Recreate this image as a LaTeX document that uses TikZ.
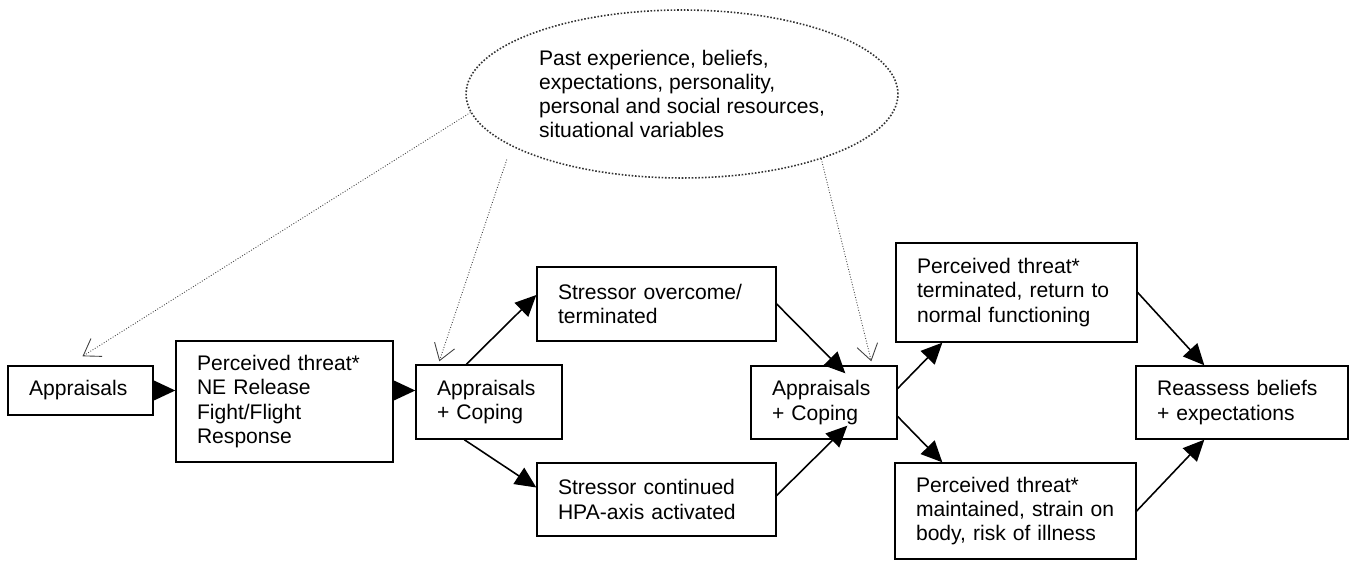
\documentclass[tikz,border=0pt]{standalone}
\usepackage{fontspec}
\setmainfont{Liberation Sans}
\usetikzlibrary{calc,arrows.meta,shapes.geometric}
\tikzset{
	box/.style={draw, line width=0.8pt, align=left, inner xsep=0.42cm, inner ysep=0pt, font=\fontsize{12}{13.8}\selectfont},
	fwd/.style={line width=0.9pt, -{Triangle[length=12pt, width=11pt]}},
	infl/.style={densely dotted, line width=0.5pt, black!75, -{Straight Barb[length=9pt, width=12pt, line width=0.5pt]}}
}

\begin{document}
\begin{tikzpicture}[x=0.02cm, y=0.02cm]
			%%%%% START %%%%%
			
			\useasboundingbox (0, 0) rectangle (1349, 561);
			
			\node[draw, ellipse, densely dotted, line width=0.9pt, black!80, text=black, minimum width=8.64cm, minimum height=3.36cm, align=left, font=\fontsize{12}{13.8}\selectfont] (past) at (682, 467) {Past experience, beliefs,\\expectations, personality,\\personal and social resources,\\situational variables};
			
			\node[box, text width=2.06cm, minimum height=0.98cm] (app) at (80.5, 170.5) {Appraisals};
			\node[box, text width=3.50cm, minimum height=2.42cm] (threat) at (284.5, 159.5) {Perceived threat*\\NE Release\\Fight/Flight\\Response};
			\node[box, text width=2.08cm, minimum height=1.48cm] (cop1) at (489, 159) {Appraisals\\+ Coping};
			
			\node[box, text width=3.94cm, minimum height=1.48cm] (over) at (656.5, 257) {Stressor overcome/\\terminated};
			\node[box, text width=3.94cm, minimum height=1.46cm] (cont) at (656.5, 61.5) {Stressor continued\\HPA-axis activated};
			
			\node[box, text width=2.08cm, minimum height=1.46cm] (cop2) at (824, 158.5) {Appraisals\\+ Coping};
			
			\node[box, text width=3.98cm, minimum height=1.98cm] (term) at (1016.5, 268.5) {Perceived threat*\\terminated, return to\\normal functioning};
			\node[box, text width=3.98cm, minimum height=1.92cm] (maint) at (1015.5, 50) {Perceived threat*\\maintained, strain on\\body, risk of illness};
			
			\node[box, text width=3.40cm, minimum height=1.46cm] (reas) at (1242, 158.5) {Reassess beliefs\\+ expectations};
			
			% influences
			\draw[infl] (past.185) -- ($(app.north)+(2, 9)$);
			\draw[infl, shorten <=8pt] (past.197.5) -- ($(cop1.north west)+(24, 3)$);
			\draw[infl] (past.335.6) -- ($(cop2.north west)+(121, 4)$);
			
			% main chain
			\draw[fwd] (app.east) -- (threat.west |- app.east);
			\draw[fwd] (threat.east |- app.east) -- (cop1.west |- app.east);
			
			\draw[fwd] ($(cop1.north west)+(51, 0)$) -- ($(over.west)+(0, 9)$);
			\draw[fwd] ($(cop1.south west)+(49, 0)$) -- ($(cont.west)+(0, 12)$);
			
			\draw[fwd] (over.east) -- ($(cop2.north west)+(95, -8)$);
			\draw[fwd] ($(cont.east)+(0, 4)$) -- ($(cop2.south west)+(97, 14)$);
			
			\draw[fwd] ($(cop2.east)+(0, 14)$) -- ($(term.south west)+(47, 0)$);
			\draw[fwd] ($(cop2.east)+(0, -14)$) -- ($(maint.north west)+(48, 0)$);
			
			\draw[fwd] (term.east) -- ($(reas.north west)+(69, 0)$);
			\draw[fwd] (maint.east) -- ($(reas.south west)+(69, 0)$);
			
			%%%%% END %%%%%
		\end{tikzpicture}
\end{document}
